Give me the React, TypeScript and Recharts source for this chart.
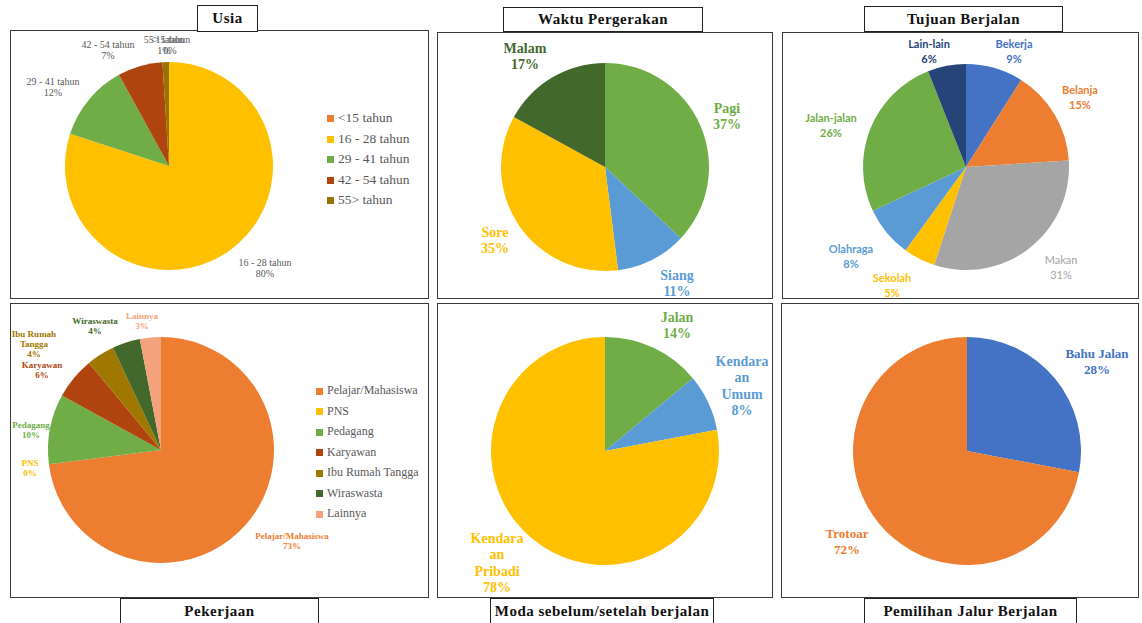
import { PieChart, Pie, Cell, Legend } from "recharts";

// Usia
const usiaNames = ["<15 tahun", "16 - 28 tahun", "29 - 41 tahun", "42 - 54 tahun", "55> tahun"];
const usiaValues = [0, 80, 12, 7, 1];

// Waktu Pergerakan
const waktuNames = ["Pagi", "Siang", "Sore", "Malam"];
const waktuValues = [37, 11, 35, 17];

// Tujuan Berjalan
const tujuanNames = ["Bekerja", "Belanja", "Makan", "Sekolah", "Olahraga", "Jalan-jalan", "Lain-lain"];
const tujuanValues = [9, 15, 31, 5, 8, 26, 6];

// Pekerjaan
const pekerjaanNames = ["Pelajar/Mahasiswa", "PNS", "Pedagang", "Karyawan", "Ibu Rumah Tangga", "Wiraswasta", "Lainnya"];
const pekerjaanValues = [73, 0, 10, 6, 4, 4, 3];
const pekerjaanLabels = [["Pelajar/Mahasiswa"], ["PNS"], ["Pedagang"], ["Karyawan"], ["Ibu Rumah", "Tangga"], ["Wiraswasta"], ["Lainnya"]];

// Moda sebelum/setelah berjalan
const modaNames = ["Jalan", "Kendaraan Umum", "Kendaraan Pribadi"];
const modaValues = [14, 8, 78];
const modaLabels = [["Jalan"], ["Kendara", "an", "Umum"], ["Kendara", "an", "Pribadi"]];

// Pemilihan Jalur Berjalan
const jalurNames = ["Bahu Jalan", "Trotoar"];
const jalurValues = [28, 72];

const SERIF = "'Liberation Serif', 'Times New Roman', serif";

type Box = { left: number; top: number; width: number; height: number };

type Spec = {
  names: string[];
  values: number[];
  colors: string[];
  lines?: string[][];
  box: Box;
  cx: number;
  cy: number;
  r: number;
  labelAt: number[][];
  font: string;
  size: number;
  weight: number | string;
  lh: number;
  textColor?: string;
  weights?: (number | string)[];
  legend?: { left: number; top: number; size: number };
};

function PiePanel({ s }: { s: Spec }) {
  const data = s.names.map((name, i) => ({ name, value: s.values[i] }));

  const renderLabel = (p: any) => {
    const i = p.index;
    const [dx, dy] = s.labelAt[i];
    const lines = [...(s.lines ? s.lines[i] : [s.names[i]]), `${s.values[i]}%`];
    const x = p.cx + dx;
    return (
      <g>
        {lines.map((t, k) => (
          <text
            key={k}
            x={x}
            y={p.cy + dy + k * s.lh}
            textAnchor="middle"
            dominantBaseline="central"
            fill={s.textColor || s.colors[i]}
            fontFamily={s.font}
            fontSize={s.size}
            fontWeight={s.weights ? s.weights[i] : s.weight}
          >
            {t}
          </text>
        ))}
      </g>
    );
  };

  return (
    <div style={{ position: "absolute", left: s.box.left, top: s.box.top }}>
      <PieChart width={s.box.width} height={s.box.height} margin={{ top: 0, right: 0, bottom: 0, left: 0 }}>
        <Pie
          data={data}
          dataKey="value"
          nameKey="name"
          cx={s.cx}
          cy={s.cy}
          outerRadius={s.r}
          startAngle={90}
          endAngle={-270}
          stroke="none"
          label={renderLabel}
          labelLine={false}
          isAnimationActive={false}
        >
          {data.map((d, i) => (
            <Cell key={d.name} fill={s.colors[i]} />
          ))}
        </Pie>
        {s.legend && (
          <Legend
            layout="vertical"
            align="right"
            verticalAlign="middle"
            iconType="square"
            iconSize={7}
            itemSorter={(item: any) => s.names.indexOf(item.value)}
            formatter={(v: string) => <span style={{ color: "#595959" }}>{v}</span>}
            wrapperStyle={{
              left: s.legend.left,
              top: s.legend.top,
              right: "auto",
              fontFamily: SERIF,
              fontSize: s.legend.size,
              lineHeight: "20.5px",
            }}
          />
        )}
      </PieChart>
    </div>
  );
}

function Frame({ box }: { box: Box }) {
  return (
    <div
      style={{
        position: "absolute",
        left: box.left,
        top: box.top,
        width: box.width,
        height: box.height,
        boxSizing: "border-box",
        border: "1.5px solid #3a3a3a",
      }}
    />
  );
}

function Title({ text, box }: { text: string; box: Box }) {
  return (
    <div
      style={{
        position: "absolute",
        left: box.left,
        top: box.top,
        width: box.width,
        height: box.height,
        boxSizing: "border-box",
        border: "1px solid #222",
        background: "#fff",
        display: "flex",
        alignItems: "center",
        justifyContent: "center",
        fontFamily: SERIF,
        fontWeight: "bold",
        fontSize: 15,
        letterSpacing: 0.5,
        color: "#111",
        zIndex: 2,
      }}
    >
      {text}
    </div>
  );
}

const specs: Spec[] = [
  {
    names: usiaNames,
    values: usiaValues,
    colors: ["#ED7D31", "#FFC000", "#70AD47", "#B0440F", "#997300"],
    box: { left: 10, top: 30, width: 419, height: 269 },
    cx: 159,
    cy: 136,
    r: 104,
    labelAt: [[1, -127], [96, 96], [-116, -85], [-61, -122], [-5, -127]],
    font: SERIF,
    size: 10,
    weight: "normal",
    lh: 11,
    textColor: "#595959",
    legend: { left: 317, top: 78, size: 13.5 },
  },
  {
    names: waktuNames,
    values: waktuValues,
    colors: ["#70AD47", "#5B9BD5", "#FFC000", "#43682B"],
    box: { left: 437, top: 32, width: 336, height: 267 },
    cx: 168,
    cy: 135,
    r: 104,
    labelAt: [[122, -59], [72, 108], [-110, 65], [-80, -119]],
    font: SERIF,
    size: 14,
    weight: "bold",
    lh: 16,
  },
  {
    names: tujuanNames,
    values: tujuanValues,
    colors: ["#4472C4", "#ED7D31", "#A5A5A5", "#FFC000", "#5B9BD5", "#70AD47", "#264478"],
    box: { left: 782, top: 32, width: 357, height: 267 },
    cx: 184,
    cy: 135,
    r: 103,
    labelAt: [[48, -124], [114, -78], [95, 92], [-74, 110], [-115, 81], [-135, -50], [-37, -124]],
    font: "Lato, 'Liberation Sans', sans-serif",
    size: 11,
    weight: "bold",
    weights: ["bold", "bold", "normal", "bold", "bold", "bold", "bold"],
    lh: 15,
  },
  {
    names: pekerjaanNames,
    values: pekerjaanValues,
    colors: ["#ED7D31", "#FFC000", "#70AD47", "#B0440F", "#A07800", "#43682B", "#F3A27C"],
    lines: pekerjaanLabels,
    box: { left: 10, top: 303, width: 419, height: 295 },
    cx: 151,
    cy: 147,
    r: 113,
    labelAt: [[131, 86], [-131, 13], [-130, -25], [-119, -85], [-127, -116], [-66, -129], [-19, -134]],
    font: SERIF,
    size: 9,
    weight: "bold",
    lh: 10,
    legend: { left: 306, top: 77, size: 12 },
  },
  {
    names: modaNames,
    values: modaValues,
    colors: ["#70AD47", "#5B9BD5", "#FFC000"],
    lines: modaLabels,
    box: { left: 437, top: 303, width: 336, height: 295 },
    cx: 168,
    cy: 148,
    r: 114,
    labelAt: [[72, -134], [137, -90], [-108, 87]],
    font: SERIF,
    size: 14,
    weight: "bold",
    lh: 16.5,
  },
  {
    names: jalurNames,
    values: jalurValues,
    colors: ["#4472C4", "#ED7D31"],
    box: { left: 781, top: 303, width: 358, height: 295 },
    cx: 186,
    cy: 148,
    r: 114,
    labelAt: [[130, -98], [-120, 82]],
    font: SERIF,
    size: 13,
    weight: "bold",
    lh: 16.5,
  },
];

const titles: { text: string; box: Box }[] = [
  { text: "Usia", box: { left: 197, top: 5, width: 61, height: 27 } },
  { text: "Waktu Pergerakan", box: { left: 503, top: 7, width: 200, height: 25 } },
  { text: "Tujuan Berjalan", box: { left: 864, top: 6, width: 199, height: 26 } },
  { text: "Pekerjaan", box: { left: 120, top: 598, width: 199, height: 26 } },
  { text: "Moda sebelum/setelah berjalan", box: { left: 490, top: 598, width: 224, height: 26 } },
  { text: "Pemilihan Jalur Berjalan", box: { left: 864, top: 598, width: 213, height: 26 } },
];

export default function App() {
  return (
    <div
      style={{
        position: "absolute",
        left: 0,
        top: 0,
        width: 1142,
        height: 623,
        background: "#fff",
        overflow: "hidden",
      }}
    >
      {specs.map((s, i) => (
        <PiePanel key={i} s={s} />
      ))}
      {specs.map((s, i) => (
        <Frame key={"f" + i} box={s.box} />
      ))}
      {titles.map((t) => (
        <Title key={t.text} text={t.text} box={t.box} />
      ))}
    </div>
  );
}
